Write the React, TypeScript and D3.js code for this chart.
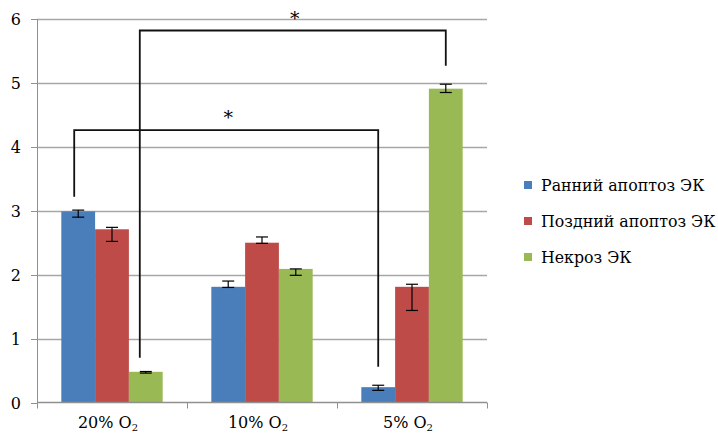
import React, { useEffect, useRef } from 'react'
import * as d3 from 'd3'

// categories and series
const categories = ['20%', '10%', '5%']
const seriesNames = ['Ранний апоптоз ЭК', 'Поздний апоптоз ЭК', 'Некроз ЭК']
const colors = ['#4A7EBB', '#BE4B48', '#98B954']

// means, one array per series
const early = [2.99, 1.81, 0.24]
const late = [2.71, 2.5, 1.81]
const necrosis = [0.48, 2.09, 4.91]
// error bar upper / lower ends
const earlyHi = [3.01, 1.9, 0.27]
const earlyLo = [2.9, 1.8, 0.19]
const lateHi = [2.74, 2.59, 1.85]
const lateLo = [2.52, 2.49, 1.44]
const necrosisHi = [0.485, 2.09, 4.98]
const necrosisLo = [0.46, 1.99, 4.85]

const yTicks = [0, 1, 2, 3, 4, 5, 6]

// significance brackets: from (category, series, leg end value) to (category, series, leg end value), top at value
const brackets = [
  { from: [0, 0, 3.22], to: [2, 0, 0.56], top: 4.26, offs: [-4, 0] },
  { from: [0, 2, 0.7], to: [2, 2, 5.27], top: 5.82, offs: [-6, 0] },
]

const W = 718, H = 434
const FONT = 'DejaVu Serif'

function App() {
  const ref = useRef<SVGSVGElement>(null)

  useEffect(() => {
    const svg = d3.select(ref.current)
    svg.selectAll('*').remove()

    const values = [early, late, necrosis]
    const his = [earlyHi, lateHi, necrosisHi]
    const los = [earlyLo, lateLo, necrosisLo]

    const x = d3.scaleBand().domain(categories).range([37, 487])
    const x1 = d3.scaleBand<number>().domain([0, 1, 2]).range([0, x.bandwidth()]).paddingInner(0).paddingOuter(0.72)
    const y = d3.scaleLinear().domain([0, 6]).range([402.5, 19])

    // gridlines
    svg.append('g').selectAll('line').data(yTicks.slice(1)).enter().append('line')
      .attr('x1', 37).attr('x2', 487)
      .attr('y1', d => Math.round(y(d)) + 0.5).attr('y2', d => Math.round(y(d)) + 0.5)
      .attr('stroke', '#a6a6a6').attr('stroke-width', 1.3)

    // bars
    const bw = x1.bandwidth()
    values.forEach((vals, s) => {
      svg.append('g').selectAll('rect').data(vals).enter().append('rect')
        .attr('x', (d, i) => x(categories[i])! + x1(s)!)
        .attr('y', d => y(d))
        .attr('width', bw)
        .attr('height', d => y(0) - y(d))
        .attr('fill', colors[s])
    })

    // error bars
    values.forEach((vals, s) => {
      const g = svg.append('g').attr('stroke', '#000').attr('stroke-width', 1.2)
      vals.forEach((_, i) => {
        const cx = x(categories[i])! + x1(s)! + bw / 2
        const hi = y(his[s][i]), lo = y(los[s][i])
        g.append('line').attr('x1', cx).attr('x2', cx).attr('y1', hi).attr('y2', lo)
        g.append('line').attr('x1', cx - 6).attr('x2', cx + 6).attr('y1', hi).attr('y2', hi)
        g.append('line').attr('x1', cx - 6).attr('x2', cx + 6).attr('y1', lo).attr('y2', lo)
      })
    })

    // axes
    svg.append('line').attr('x1', 37.5).attr('x2', 37.5).attr('y1', y(6)).attr('y2', y(0))
      .attr('stroke', '#909090')
    svg.append('line').attr('x1', 37).attr('x2', 487).attr('y1', y(0)).attr('y2', y(0))
      .attr('stroke', '#909090').attr('stroke-width', 1.3)
    svg.append('g').selectAll('line').data(yTicks).enter().append('line')
      .attr('x1', 31).attr('x2', 37).attr('y1', d => Math.round(y(d)) + 0.5).attr('y2', d => Math.round(y(d)) + 0.5)
      .attr('stroke', '#909090')
    const edges = [...categories.map(c => x(c)!), x.range()[1]]
    svg.append('g').selectAll('line').data(edges).enter().append('line')
      .attr('x1', d => Math.round(d) + 0.5).attr('x2', d => Math.round(d) + 0.5)
      .attr('y1', y(0)).attr('y2', y(0) + 6)
      .attr('stroke', '#909090')

    svg.append('g').selectAll('text').data(yTicks).enter().append('text')
      .attr('x', 21).attr('y', d => y(d) + 6)
      .attr('text-anchor', 'end')
      .style('font-family', FONT).style('font-size', '16px')
      .text(d => d)

    const xl = svg.append('g').selectAll('text').data(categories).enter().append('text')
      .attr('x', d => x(d)! + x.bandwidth() / 2 - 4)
      .attr('y', 428)
      .attr('text-anchor', 'middle')
      .style('font-family', FONT).style('font-size', '16px')
    xl.append('tspan').text(d => d + ' O')
    xl.append('tspan').attr('dy', 3).style('font-size', '10px').text('2')

    // significance brackets
    brackets.forEach(b => {
      const x0 = x(categories[b.from[0]])! + x1(b.from[1])! + bw / 2 + b.offs[0]
      const xe = x(categories[b.to[0]])! + x1(b.to[1])! + bw / 2 + b.offs[1]
      const path = d3.path()
      path.moveTo(x0, y(b.from[2]))
      path.lineTo(x0, y(b.top))
      path.lineTo(xe, y(b.top))
      path.lineTo(xe, y(b.to[2]))
      svg.append('path').attr('d', path.toString())
        .attr('fill', 'none').attr('stroke', '#111').attr('stroke-width', 1.8)
      svg.append('text')
        .attr('x', (x0 + xe) / 2 + 2)
        .attr('y', y(b.top) - 6)
        .attr('text-anchor', 'middle')
        .style('font-family', FONT).style('font-size', '19px')
        .text('*')
    })

    // legend
    const leg = svg.append('g')
    seriesNames.forEach((name, s) => {
      const cy = 185 + s * 36
      leg.append('rect').attr('x', 524).attr('y', cy - 4).attr('width', 8).attr('height', 8).attr('fill', colors[s])
      leg.append('text').attr('x', 541).attr('y', cy + 6)
        .style('font-family', FONT).style('font-size', '15.8px')
        .text(name)
    })
  }, [])

  return (
    <svg ref={ref} width={W} height={H} style={{ position: 'absolute', left: 0, top: 0, background: '#fff' }} />
  )
}

export default App
